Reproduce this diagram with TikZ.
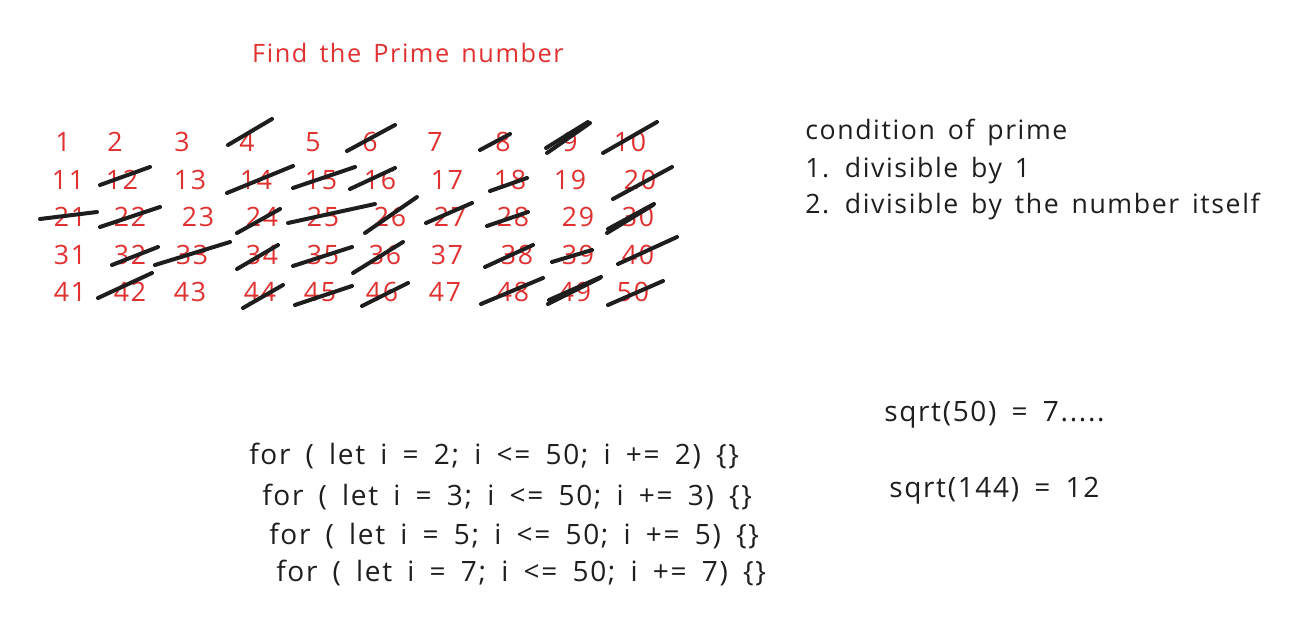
\documentclass[tikz,border=0pt]{standalone}
\usepackage{fontspec}
\setmainfont{Open Sans}[LetterSpace=6, WordSpace=1.5]
\newfontfamily\codefont{Open Sans}[LetterSpace=6, WordSpace=1.7]
\usetikzlibrary{positioning}
\definecolor{cInk}{RGB}{30,30,30}
\definecolor{cRed}{RGB}{224,49,49}
\tikzset{
	num/.style   ={text=cRed, font=\fontsize{20}{24}\selectfont, inner sep=0pt},
	note/.style  ={text=cInk, font=\fontsize{20}{27.75}\selectfont, anchor=west, inner sep=0pt, align=left},
	code/.style  ={note, font=\codefont\fontsize{21}{27.75}\selectfont},
	strike/.style={draw=cInk, line width=3pt, line cap=round},
}
\begin{document}
\begin{tikzpicture}[x=0.75pt, y=-0.75pt]
	\useasboundingbox (0,0) rectangle (1306,617);
	% title
	\node[num, font=\fontsize{19}{24}\selectfont] (title) at (408,53) {Find the Prime number};
	% the numbers 1 to 50
	\foreach \n/\x/\y in {1/63/142, 2/115/142, 3/182/142, 4/247/142, 5/313/142, 6/370/142, 7/435/142, 8/503/142, 9/570/142, 10/630/142,
			11/68/180, 12/122/180, 13/190/180, 14/256/180, 15/321/180, 16/380/180, 17/447/180, 18/510/180, 19/570/180, 20/640/180,
			21/70/217, 22/130/217, 23/198/217, 24/262/217, 25/323/217, 26/390/217, 27/450/217, 28/513/217, 29/578/217, 30/638/217,
			31/70/255, 32/130/255, 33/192/255, 34/262/255, 35/323/255, 36/385/255, 37/447/255, 38/517/255, 39/578/255, 40/638/255,
			41/70/292, 42/130/292, 43/190/292, 44/260/292, 45/320/292, 46/382/292, 47/445/292, 48/513/292, 49/575/292, 50/633/292}
		\node[num] (n\n) at (\x,\y) {\n};
	% crossed out
	\foreach \n/\ax/\ay/\bx/\by in {4/-19/3/25/-23, 6/-23/9/25/-17, 8/-23/8/7/-8, 9/-23/11/20/-19, 9/-24/6/18/-20, 10/-27/11/27/-20,
			12/-22/5/28/-13, 14/-29/13/37/-14, 15/-28/8/34/-13, 16/-30/9/15/-12, 18/-20/11/17/-2, 20/-27/19/32/-13,
			21/-30/2/27/-5, 22/-30/10/30/-10, 24/-25/16/18/-8, 25/-35/6/52/-13, 26/-25/16/27/-20, 27/-24/6/22/-14,
			28/-26/9/15/-5, 30/-31/16/15/-12, 30/-30/12/16/-13, 32/-18/10/28/-8, 33/-37/10/38/-13, 34/-25/14/16/-10,
			35/-30/11/29/-8, 36/-32/18/18/-13, 38/-32/12/16/-10, 39/-26/7/14/-5, 40/-20/9/39/-18, 42/-32/6/22/-19,
			44/-17/16/23/-7, 45/-25/13/32/-6, 46/-20/14/26/-9, 48/-32/12/30/-14, 49/-27/12/25/-14, 49/-26/8/26/-15,
			50/-25/13/30/-11}
		\draw[strike] ([shift={(\ax,\ay)}]n\n.center) -- ([shift={(\bx,\by)}]n\n.center);
	% conditions
	\node[note] (cond) at (805,170) {condition of prime\\1. divisible by 1\\2. divisible by the number itself};
	% loops
	\foreach \k/\x/\y in {2/249/456, 3/262/497, 5/269/536, 7/276/573}
		\node[code] (for\k) at (\x,\y) {for ( let i = \k; i <= 50; i += \k) \{\}};
	% roots
	\node[code] (sq50) at (884,415) {sqrt(50) = 7.....};
	\node[code] (sq144) at (889,491) {sqrt(144) = 12};
\end{tikzpicture}
\end{document}
